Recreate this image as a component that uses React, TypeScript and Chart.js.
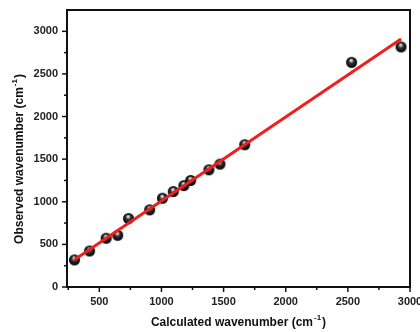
import React, { useEffect, useRef } from "react";
import { Chart, registerables } from "chart.js";

Chart.register(...registerables);

const calculatedX = [300, 422, 555, 648, 735, 905, 1008, 1095, 1180, 1235, 1382, 1471, 1670, 2530, 2928];
const observedY = [318, 423, 572, 607, 803, 905, 1042, 1120, 1190, 1250, 1375, 1442, 1669, 2636, 2817];
const xTickLabels = [500, 1000, 1500, 2000, 2500, 3000];
const yTickLabels = [0, 500, 1000, 1500, 2000, 2500, 3000];
const xTitle = "Calculated wavenumber (cm";
const yTitle = "Observed wavenumber (cm";
const superText = "-1";

const FONT = "Arial, 'Liberation Sans', sans-serif";

function linearFit(xs: number[], ys: number[]) {
  const n = xs.length;
  const mx = xs.reduce((a, b) => a + b, 0) / n;
  const my = ys.reduce((a, b) => a + b, 0) / n;
  let sxy = 0, sxx = 0;
  for (let i = 0; i < n; i++) {
    sxy += (xs[i] - mx) * (ys[i] - my);
    sxx += (xs[i] - mx) * (xs[i] - mx);
  }
  const b = sxy / sxx;
  return { a: my - b * mx, b };
}

function makeSphere(r: number) {
  const c = document.createElement("canvas");
  const s = Math.ceil(r * 2 + 2);
  c.width = s;
  c.height = s;
  const g = c.getContext("2d")!;
  const cx = s / 2, cy = s / 2;
  const grad = g.createRadialGradient(cx - 0.5, cy - r * 0.45, 0, cx, cy, r);
  grad.addColorStop(0, "#ffffff");
  grad.addColorStop(0.2, "#bbbbbb");
  grad.addColorStop(0.45, "#333333");
  grad.addColorStop(1, "#000000");
  g.fillStyle = grad;
  g.beginPath();
  g.arc(cx, cy, r, 0, Math.PI * 2);
  g.fill();
  return c;
}

function drawTitleWithSup(ctx: CanvasRenderingContext2D, main: string, x: number, y: number) {
  const mainFont = `bold 12px ${FONT}`;
  const supFont = `bold 8px ${FONT}`;
  ctx.font = mainFont;
  const w1 = ctx.measureText(main).width;
  ctx.font = supFont;
  const w2 = ctx.measureText(superText).width;
  ctx.font = mainFont;
  const w3 = ctx.measureText(")").width;
  const total = w1 + 1 + w2 + 1 + w3;
  let sx = x - total / 2;
  ctx.textBaseline = "middle";
  ctx.textAlign = "left";
  ctx.fillStyle = "#111";
  ctx.font = mainFont;
  ctx.fillText(main, sx, y);
  sx += w1 + 1;
  ctx.font = supFont;
  ctx.fillText(superText, sx, y - 5);
  sx += w2 + 1;
  ctx.font = mainFont;
  ctx.fillText(")", sx, y);
}

const framePlugin = {
  id: "framePlugin",
  afterDraw(chart: any) {
    const { ctx, chartArea, scales } = chart;
    const { left, right, top, bottom } = chartArea;
    ctx.save();
    ctx.strokeStyle = "#111";
    ctx.lineWidth = 2;
    ctx.strokeRect(left, top, right - left, bottom - top);
    ctx.lineWidth = 1.5;
    const xs = scales.x, ys = scales.y;
    for (let v = 250; v <= 3000; v += 250) {
      if (v < xs.min || v > xs.max) continue;
      const px = xs.getPixelForValue(v);
      const len = v % 500 === 0 ? 5 : 3;
      ctx.beginPath();
      ctx.moveTo(px, bottom);
      ctx.lineTo(px, bottom + len);
      ctx.stroke();
    }
    for (let v = 0; v < 3250; v += 250) {
      const py = ys.getPixelForValue(v);
      const len = v % 500 === 0 ? 5 : 3;
      ctx.beginPath();
      ctx.moveTo(left, py);
      ctx.lineTo(left - len, py);
      ctx.stroke();
    }
    drawTitleWithSup(ctx, xTitle, (left + right) / 2, 323);
    ctx.save();
    ctx.translate(20, 159);
    ctx.rotate(-Math.PI / 2);
    drawTitleWithSup(ctx, yTitle, 0, 0);
    ctx.restore();
    ctx.restore();
  },
};

export default function App() {
  const ref = useRef<HTMLCanvasElement>(null);
  useEffect(() => {
    document.body.style.margin = "0";
    const fit = linearFit(calculatedX, observedY);
    const xMin = Math.min(...calculatedX);
    const xMax = Math.max(...calculatedX);
    const sphere = makeSphere(5.5);
    const chart = new Chart(ref.current!, {
      type: "scatter",
      data: {
        datasets: [
          {
            label: "Observed",
            data: calculatedX.map((x, i) => ({ x, y: observedY[i] })),
            pointStyle: sphere as any,
            pointRadius: 5.5,
            order: 2,
          },
          {
            label: "Fit",
            type: "line",
            data: [
              { x: xMin, y: fit.a + fit.b * xMin },
              { x: xMax, y: fit.a + fit.b * xMax },
            ],
            borderColor: "#f01e1e",
            borderWidth: 3,
            pointRadius: 0,
            showLine: true,
            order: 1,
          } as any,
        ],
      },
      options: {
        responsive: false,
        animation: false,
        layout: { padding: { top: 10, right: 10, left: 0, bottom: 0 } },
        plugins: { legend: { display: false }, tooltip: { enabled: false } },
        scales: {
          x: {
            type: "linear",
            min: 240,
            max: 3000,
            grid: { display: false, drawTicks: false },
            border: { display: false },
            afterBuildTicks: (s: any) => { s.ticks = xTickLabels.map((v) => ({ value: v })); },
            afterFit: (s: any) => { s.height = 45; s.paddingLeft = 0; s.paddingRight = 0; },
            ticks: {
              autoSkip: false,
              padding: 8,
              maxRotation: 0,
              minRotation: 0,
              color: "#222",
              font: { family: FONT, size: 11, weight: "bold" },
              callback: (v: any) => String(v),
            },
          },
          y: {
            type: "linear",
            min: 0,
            max: 3250,
            grid: { display: false, drawTicks: false },
            border: { display: false },
            afterBuildTicks: (s: any) => { s.ticks = yTickLabels.map((v) => ({ value: v })); },
            afterFit: (s: any) => { s.width = 67; s.paddingTop = 0; s.paddingBottom = 0; },
            ticks: {
              autoSkip: false,
              padding: 9,
              color: "#222",
              font: { family: FONT, size: 11, weight: "bold" },
              callback: (v: any) => String(v),
            },
          },
        },
      },
      plugins: [framePlugin],
    });
    return () => chart.destroy();
  }, []);
  return (
    <div style={{ width: 420, height: 332, background: "#fff" }}>
      <canvas ref={ref} width={420} height={332} />
    </div>
  );
}
